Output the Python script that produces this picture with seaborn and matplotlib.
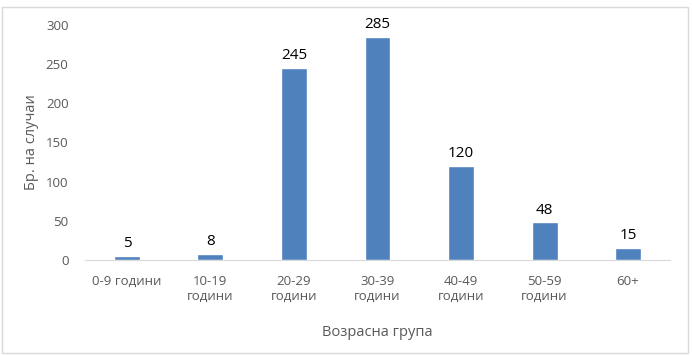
import matplotlib
matplotlib.use('Agg')
import matplotlib.pyplot as plt
import seaborn as sns
import pandas as pd
from matplotlib.patches import Rectangle

# data
groups = ['0-9 години', '10-19\nгодини', '20-29\nгодини', '30-39\nгодини',
          '40-49\nгодини', '50-59\nгодини', '60+']
cases = [5, 8, 245, 285, 120, 48, 15]
y_ticks = [0, 50, 100, 150, 200, 250, 300]

df = pd.DataFrame({'group': groups, 'cases': cases})

sns.set_style('white')
plt.rcParams['font.family'] = ['Open Sans', 'DejaVu Sans']

fig = plt.figure(figsize=(6.92, 3.56), dpi=100)
ax = fig.add_axes([0.123, 0.270, 0.845, 0.660])

sns.barplot(data=df, x='group', y='cases', color='#4F81BD', width=0.31,
            saturation=1, ax=ax)

for i, v in enumerate(cases):
    ax.text(i, v + 6, str(v), ha='center', va='bottom', fontsize=11, color='#000000')

ax.set_ylim(0, 300)
ax.set_yticks(y_ticks)
ax.tick_params(axis='both', length=0, labelsize=9.5, labelcolor='#595959')
ax.tick_params(axis='x', pad=11)
ax.tick_params(axis='y', pad=12)
for s in ['top', 'right', 'left']:
    ax.spines[s].set_visible(False)
ax.spines['bottom'].set_color('#D9D9D9')
ax.set_xlabel('Возрасна група', fontsize=10.5, color='#595959', labelpad=16)
ax.set_ylabel('Бр. на случаи', fontsize=10.5, color='#595959', labelpad=5)

# chart border
fig.patches.append(Rectangle((0.003, 0.008), 0.991, 0.972, transform=fig.transFigure,
                             fill=False, edgecolor='#D9D9D9', linewidth=1))

fig.savefig('out.png', dpi=100)
